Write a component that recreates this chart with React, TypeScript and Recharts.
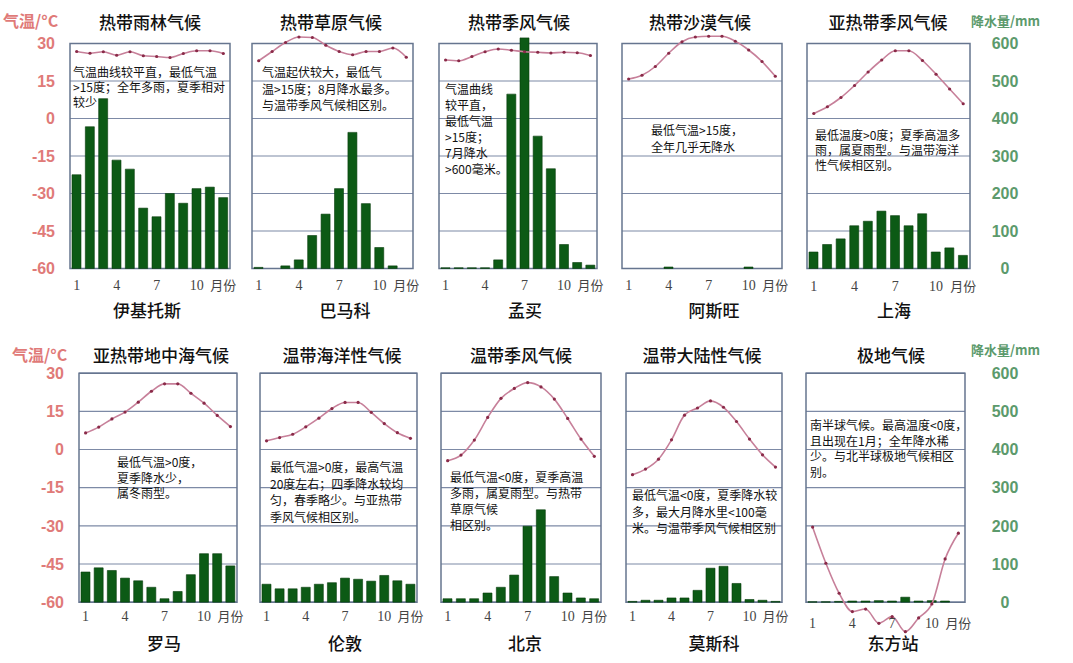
import React from "react";
import {
  ComposedChart,
  Bar,
  Line,
  XAxis,
  YAxis,
  CartesianGrid,
  ReferenceArea,
} from "recharts";

// months + tick text under each panel
const MONTHS = [1, 2, 3, 4, 5, 6, 7, 8, 9, 10, 11, 12];
const MONTH_TICKS = [1, 4, 7, 10, 12];
const MONTH_LABELS: Record<number, string> = { 1: "1", 4: "4", 7: "7", 10: "10", 12: "月份" };

const TEMP_TICKS = [-60, -45, -30, -15, 0, 15, 30];
const RAIN_TICKS = [0, 100, 200, 300, 400, 500, 600];

const TITLES = [
  "热带雨林气候", "热带草原气候", "热带季风气候", "热带沙漠气候", "亚热带季风气候",
  "亚热带地中海气候", "温带海洋性气候", "温带季风气候", "温带大陆性气候", "极地气候",
];
const CITIES = ["伊基托斯", "巴马科", "孟买", "阿斯旺", "上海", "罗马", "伦敦", "北京", "莫斯科", "东方站"];

// °C per month
const TEMP_IQUITOS = [26.8, 26.1, 26.7, 25.3, 26.7, 25.1, 24.8, 24.4, 26, 27.1, 27.1, 26];
const TEMP_BAMAKO = [23.1, 26.8, 30.4, 32.6, 32.4, 29.3, 26.8, 25.5, 26.8, 26.8, 28.2, 24.5];
const TEMP_MUMBAI = [23.4, 23.1, 24.8, 26.7, 27.8, 27.3, 26.7, 26.5, 26.2, 26.5, 26.3, 25.2];
const TEMP_ASWAN = [15.8, 17.3, 20.8, 26.1, 30.7, 32.6, 32.9, 32.9, 30.9, 27.4, 22.8, 16.9];
const TEMP_SHANGHAI = [2.0, 4.7, 8.4, 13.2, 18.6, 23.4, 27.1, 27.1, 23.2, 17.7, 11.8, 5.9];
const TEMP_ROME = [6.5, 8.8, 12.0, 14.7, 18.6, 22.9, 25.8, 25.8, 22.1, 18.2, 13.4, 9.0];
const TEMP_LONDON = [3.4, 4.7, 6.0, 8.9, 12.3, 16.1, 18.5, 18.5, 14.6, 10.2, 6.6, 4.4];
const TEMP_BEIJING = [-4.4, -2.2, 3.7, 12.6, 20.1, 24.0, 26.3, 24.6, 19.8, 12.2, 4.1, -2.7];
const TEMP_MOSCOW = [-9.9, -7.7, -3.8, 3.8, 13.5, 16.3, 19.1, 16.6, 11.0, 4.1, -2.1, -6.9];
const TEMP_VOSTOK = [-30.5, -44.7, -56.5, -63.7, -62.7, -68.3, -65.7, -71.6, -66.2, -60.7, -43.0, -32.9];

// mm per month
const RAIN_IQUITOS = [250, 378, 453, 289, 265, 161, 138, 200, 174, 213, 217, 189];
const RAIN_BAMAKO = [3, 0, 7, 23, 88, 145, 213, 363, 173, 56, 7, 0];
const RAIN_MUMBAI = [2, 2, 2, 2, 23, 465, 615, 353, 266, 64, 16, 9];
const RAIN_ASWAN = [0, 0, 0, 4, 0, 0, 0, 0, 0, 4, 0, 0];
const RAIN_SHANGHAI = [44, 64, 79, 114, 126, 153, 141, 114, 146, 44, 55, 35];
const RAIN_ROME = [79, 90, 83, 63, 56, 39, 9, 28, 72, 127, 127, 95];
const RAIN_LONDON = [47, 35, 35, 39, 47, 51, 63, 60, 55, 70, 56, 47];
const RAIN_BEIJING = [9, 9, 9, 24, 39, 71, 199, 242, 67, 24, 11, 9];
const RAIN_MOSCOW = [2, 5, 5, 11, 11, 31, 89, 94, 49, 7, 5, 2];
const RAIN_VOSTOK = [1, 1, 2, 3, 3, 4, 3, 13, 3, 4, 3, 0];

const NOTES = [
  ["气温曲线较平直，最低气温", ">15度；全年多雨，夏季相对", "较少"],
  ["气温起伏较大，最低气", "温>15度；8月降水最多。", "与温带季风气候相区别。"],
  ["气温曲线", "较平直，", "最低气温", ">15度；", "7月降水", ">600毫米。"],
  ["最低气温>15度，", "全年几乎无降水"],
  ["最低温度>0度；夏季高温多", "雨，属夏雨型。与温带海洋", "性气候相区别。"],
  ["最低气温>0度，", "夏季降水少，", "属冬雨型。"],
  ["最低气温>0度，最高气温", "20度左右；四季降水较均", "匀，春季略少。与亚热带", "季风气候相区别。"],
  ["最低气温<0度，夏季高温", "多雨，属夏雨型。与热带", "草原气候", "相区别。"],
  ["最低气温<0度，夏季降水较", "多，最大月降水里<100毫", "米。与温带季风气候相区别"],
  ["南半球气候。最高温度<0度，", "且出现在1月；全年降水稀", "少。与北半球极地气候相区", "别。"],
];

const TEMPS = [TEMP_IQUITOS, TEMP_BAMAKO, TEMP_MUMBAI, TEMP_ASWAN, TEMP_SHANGHAI, TEMP_ROME, TEMP_LONDON, TEMP_BEIJING, TEMP_MOSCOW, TEMP_VOSTOK];
const RAINS = [RAIN_IQUITOS, RAIN_BAMAKO, RAIN_MUMBAI, RAIN_ASWAN, RAIN_SHANGHAI, RAIN_ROME, RAIN_LONDON, RAIN_BEIJING, RAIN_MOSCOW, RAIN_VOSTOK];

// layout: plot box in page pixels, label spots
const BOXES = [
  { left: 70, right: 230, top: 43, h: 225, tickY: 285, titleX: 150, titleY: 22, cityX: 147, cityY: 310, noteX: 73, noteY: 72, lh: 15 },
  { left: 252, right: 413, top: 43, h: 225, tickY: 285, titleX: 331, titleY: 22, cityX: 345, cityY: 310, noteX: 262, noteY: 72, lh: 16.5 },
  { left: 439, right: 597, top: 43, h: 225, tickY: 285, titleX: 519, titleY: 22, cityX: 525, cityY: 310, noteX: 445, noteY: 89, lh: 16 },
  { left: 622, right: 782, top: 43, h: 225, tickY: 285, titleX: 700, titleY: 22, cityX: 714, cityY: 310, noteX: 651, noteY: 130, lh: 17 },
  { left: 807, right: 970, top: 43, h: 225, tickY: 286, titleX: 888, titleY: 22, cityX: 894, cityY: 310, noteX: 815, noteY: 135, lh: 15 },
  { left: 79, right: 237, top: 373, h: 229, tickY: 616, titleX: 161, titleY: 355, cityX: 164, cityY: 643, noteX: 117, noteY: 462, lh: 15.5 },
  { left: 260, right: 417, top: 373, h: 229, tickY: 616, titleX: 342, titleY: 355, cityX: 345, cityY: 643, noteX: 270, noteY: 467, lh: 16.7 },
  { left: 441, right: 601, top: 373, h: 229, tickY: 616, titleX: 521, titleY: 355, cityX: 525, cityY: 643, noteX: 450, noteY: 477, lh: 16 },
  { left: 626, right: 782, top: 373, h: 229, tickY: 616, titleX: 702, titleY: 355, cityX: 714, cityY: 643, noteX: 632, noteY: 495, lh: 16.5 },
  { left: 806, right: 965, top: 373, h: 229, tickY: 623, titleX: 891, titleY: 355, cityX: 893, cityY: 643, noteX: 810, noteY: 425, lh: 15.7 },
];

const TEMP_COLOR = "#e07a78";
const RAIN_COLOR = "#5c9a6c";
const CJK = '"Noto Sans CJK SC", "Noto Sans", sans-serif';

function Panel({ idx }: { idx: number }) {
  const b = BOXES[idx];
  const col = idx % 5;
  const leftW = col === 0 ? 70 : 0;
  const rightW = col === 4 ? 80 : 0;
  const padL = col === 0 ? 0 : 20;
  const padR = col === 4 ? 0 : 20;
  // temp axis spans -75..45 (rain -100..700) so overflow (Bamako, Vostok) stays visible; the box is -60..30
  const plotH = (b.h * 4) / 3;
  const plotTop = b.top - b.h / 6;
  const xAxisH = 40;
  const width = b.right - b.left + leftW + rightW + padL + padR;
  const height = plotH + xAxisH;
  const tickYLocal = b.tickY - plotTop;

  const data = MONTHS.map((m, i) => ({ m, t: TEMPS[idx][i], r: RAINS[idx][i] }));

  const MonthTick = (props: any) => {
    const { x, payload } = props;
    const label = MONTH_LABELS[payload.value];
    if (!label) return null;
    return (
      <text
        x={x}
        y={tickYLocal}
        textAnchor="middle"
        dominantBaseline="central"
        fontSize={label === "月份" ? 13 : 14}
        fontFamily={'"Liberation Serif", "Noto Sans CJK SC", serif'}
        fill="#444"
      >
        {label}
      </text>
    );
  };

  return (
    <div style={{ position: "absolute", left: b.left - leftW - padL, top: plotTop }}>
      <ComposedChart
        width={width}
        height={height}
        data={data}
        margin={{ top: 0, right: padR, bottom: 0, left: padL }}
        barSize={9}
      >
        <CartesianGrid yAxisId="t" vertical={false} syncWithTicks stroke="#7d8aa6" strokeWidth={1.2} />
        <XAxis
          dataKey="m"
          type="number"
          domain={[0.5, 12.5]}
          ticks={MONTH_TICKS}
          interval={0}
          height={xAxisH}
          axisLine={false}
          tickLine={false}
          tick={<MonthTick />}
        />
        <YAxis
          yAxisId="t"
          type="number"
          domain={[-75, 45]}
          ticks={TEMP_TICKS}
          hide={col !== 0}
          width={leftW}
          axisLine={false}
          tickLine={false}
          tickSize={0}
          tickMargin={15}
          tick={{ fill: TEMP_COLOR, fontSize: 16, fontWeight: 700, fontFamily: '"Liberation Sans", sans-serif' }}
        />
        <YAxis
          yAxisId="r"
          orientation="right"
          type="number"
          domain={[-100, 700]}
          ticks={RAIN_TICKS}
          hide={col !== 4}
          width={rightW}
          axisLine={false}
          tickLine={false}
          tickSize={0}
          tickMargin={idx === 4 ? 35 : 40}
          tick={{ fill: RAIN_COLOR, fontSize: 16, fontWeight: 700, textAnchor: "middle", fontFamily: '"Liberation Sans", sans-serif' }}
        />
        <ReferenceArea
          yAxisId="t"
          x1={0.5}
          x2={12.5}
          y1={-60}
          y2={30}
          fill="none"
          stroke="#66758f"
          strokeWidth={1.5}
        />
        <Bar
          yAxisId="r"
          dataKey="r"
          fill="#0c5a15"
          stroke="#073d0b"
          strokeWidth={0.6}
          isAnimationActive={false}
        />
        <Line
          yAxisId="t"
          dataKey="t"
          type="monotone"
          stroke="#c7809a"
          strokeWidth={1.6}
          dot={{ r: 1.6, fill: "#8a2a48", stroke: "none" }}
          isAnimationActive={false}
        />
      </ComposedChart>
    </div>
  );
}

function Notes({ idx }: { idx: number }) {
  const b = BOXES[idx];
  return (
    <>
      {NOTES[idx].map((line, i) => (
        <div
          key={i}
          style={{
            position: "absolute",
            left: b.noteX,
            top: b.noteY + i * b.lh - 8,
            height: 16,
            lineHeight: "16px",
            fontSize: 12,
            fontFamily: CJK,
            color: "#111",
            whiteSpace: "nowrap",
          }}
        >
          {line}
        </div>
      ))}
    </>
  );
}

function Label({ text, x, y, size }: { text: string; x: number; y: number; size: number }) {
  return (
    <div
      style={{
        position: "absolute",
        left: x - 100,
        width: 200,
        top: y - 12,
        height: 24,
        lineHeight: "24px",
        textAlign: "center",
        fontSize: size,
        fontFamily: CJK,
        fontWeight: 500,
        color: "#111",
        whiteSpace: "nowrap",
      }}
    >
      {text}
    </div>
  );
}

function AxisTitle({ text, x, y, color, size }: { text: string; x: number; y: number; color: string; size: number }) {
  return (
    <div
      style={{
        position: "absolute",
        left: x,
        top: y - 10,
        height: 20,
        lineHeight: "20px",
        fontSize: size,
        fontFamily: CJK,
        fontWeight: 700,
        color,
        whiteSpace: "nowrap",
      }}
    >
      {text}
    </div>
  );
}

export default function App() {
  return (
    <div
      style={{
        position: "absolute",
        left: 0,
        top: 0,
        width: 1073,
        height: 663,
        background: "#fff",
        overflow: "hidden",
      }}
    >
      {BOXES.map((_, i) => (
        <Panel key={`p-${i}`} idx={i} />
      ))}
      {BOXES.map((_, i) => (
        <Notes key={`n-${i}`} idx={i} />
      ))}
      {BOXES.map((b, i) => (
        <Label key={`t-${i}`} text={TITLES[i]} x={b.titleX} y={b.titleY} size={17} />
      ))}
      {BOXES.map((b, i) => (
        <Label key={`c-${i}`} text={CITIES[i]} x={b.cityX} y={b.cityY} size={17} />
      ))}
      <AxisTitle text="气温/°C" x={3} y={20} color={TEMP_COLOR} size={16} />
      <AxisTitle text="气温/°C" x={12} y={354} color={TEMP_COLOR} size={16} />
      <AxisTitle text="降水量/mm" x={971} y={21} color={RAIN_COLOR} size={13} />
      <AxisTitle text="降水量/mm" x={971} y={350} color={RAIN_COLOR} size={13} />
    </div>
  );
}
